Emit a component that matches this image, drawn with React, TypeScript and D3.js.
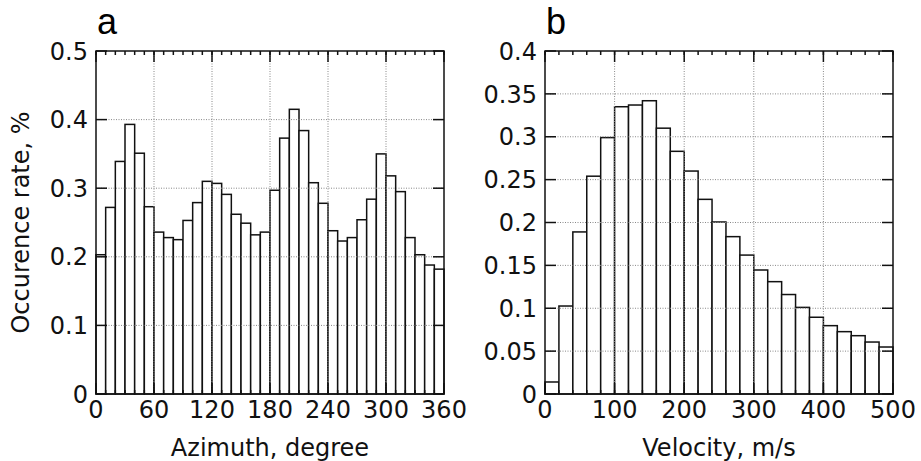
import React from "react";
import * as d3 from "d3";

const azimuthEdges = d3.range(0, 361, 10);
const azimuthRates = [
  0.203, 0.272, 0.339, 0.393, 0.351, 0.273, 0.236, 0.228, 0.225, 0.253,
  0.279, 0.31, 0.307, 0.291, 0.262, 0.249, 0.232, 0.236, 0.297, 0.373,
  0.415, 0.384, 0.308, 0.278, 0.238, 0.223, 0.228, 0.254, 0.284, 0.35,
  0.318, 0.295, 0.228, 0.203, 0.188, 0.182,
];
const velocityEdges = d3.range(0, 501, 20);
const velocityRates = [
  0.014, 0.1026, 0.189, 0.254, 0.299, 0.335, 0.337, 0.342, 0.31, 0.283,
  0.26, 0.227, 0.2006, 0.1835, 0.162, 0.1446, 0.131, 0.116, 0.101, 0.0895,
  0.0797, 0.0727, 0.068, 0.0606, 0.0548,
];
const azimuthXTicks = [0, 60, 120, 180, 240, 300, 360];
const azimuthYTicks = [0, 0.1, 0.2, 0.3, 0.4, 0.5];
const velocityXTicks = [0, 100, 200, 300, 400, 500];
const velocityYTicks = [0, 0.05, 0.1, 0.15, 0.2, 0.25, 0.3, 0.35, 0.4];

const FONT = "'DejaVu Sans', sans-serif";
const FS = 24;

type PanelProps = {
  x0: number;
  x1: number;
  y0: number;
  y1: number;
  edges: number[];
  values: number[];
  xTicks: number[];
  yTicks: number[];
  yMax: number;
  letter: string;
  xLabel: string;
  yLabel?: string;
};

function Panel(p: PanelProps) {
  const xMin = p.edges[0];
  const xMax = p.edges[p.edges.length - 1];
  const x = d3.scaleLinear().domain([xMin, xMax]).range([p.x0, p.x1]);
  const y = d3.scaleLinear().domain([0, p.yMax]).range([p.y1, p.y0]);
  const fmt = (v: number) => (v === 0 ? "0" : String(+v.toFixed(2)));
  const major = 11;
  const minor = 4;
  const sw = 1.5;
  return (
    <g>
      {p.values.map((v, i) => (
        <rect
          key={i}
          x={x(p.edges[i])}
          y={y(v)}
          width={x(p.edges[i + 1]) - x(p.edges[i])}
          height={y(0) - y(v)}
          fill="white"
          stroke="#111"
          strokeWidth={sw}
        />
      ))}
      {p.xTicks
        .filter((t) => t !== xMin && t !== xMax)
        .map((t) => (
          <line
            key={"gx" + t}
            x1={x(t)}
            x2={x(t)}
            y1={p.y0}
            y2={p.y1}
            stroke="#888"
            strokeWidth={1}
            strokeDasharray="1,1.5"
          />
        ))}
      {p.yTicks
        .filter((t) => t !== 0 && t !== p.yMax)
        .map((t) => (
          <line
            key={"gy" + t}
            x1={p.x0}
            x2={p.x1}
            y1={y(t)}
            y2={y(t)}
            stroke="#888"
            strokeWidth={1}
            strokeDasharray="1,1.5"
          />
        ))}
      {p.edges.map((e) => (
        <g key={"mt" + e}>
          <line x1={x(e)} x2={x(e)} y1={p.y0} y2={p.y0 + minor} stroke="#111" strokeWidth={sw} />
          <line x1={x(e)} x2={x(e)} y1={p.y1} y2={p.y1 - minor} stroke="#111" strokeWidth={sw} />
        </g>
      ))}
      {p.xTicks.map((t) => (
        <g key={"xt" + t}>
          <line x1={x(t)} x2={x(t)} y1={p.y0} y2={p.y0 + major} stroke="#111" strokeWidth={sw} />
          <line x1={x(t)} x2={x(t)} y1={p.y1} y2={p.y1 - major} stroke="#111" strokeWidth={sw} />
          <text
            x={x(t)}
            y={p.y1 + 24}
            textAnchor="middle"
            fontFamily={FONT}
            fontSize={FS}
            fill="#111"
          >
            {fmt(t)}
          </text>
        </g>
      ))}
      {p.yTicks.map((t) => (
        <g key={"yt" + t}>
          <line x1={p.x0} x2={p.x0 + major} y1={y(t)} y2={y(t)} stroke="#111" strokeWidth={sw} />
          <line x1={p.x1} x2={p.x1 - major} y1={y(t)} y2={y(t)} stroke="#111" strokeWidth={sw} />
          <text
            x={p.x0 - 8}
            y={y(t)}
            dy="0.36em"
            textAnchor="end"
            fontFamily={FONT}
            fontSize={FS}
            fill="#111"
          >
            {fmt(t)}
          </text>
        </g>
      ))}
      <rect
        x={p.x0}
        y={p.y0}
        width={p.x1 - p.x0}
        height={p.y1 - p.y0}
        fill="none"
        stroke="#111"
        strokeWidth={sw}
      />
      <text
        x={p.x0 + 1}
        y={34}
        fontFamily="'Liberation Sans', Arial, sans-serif"
        fontSize={36}
        fill="#000"
      >
        {p.letter}
      </text>
      <text
        x={(p.x0 + p.x1) / 2}
        y={456}
        textAnchor="middle"
        fontFamily={FONT}
        fontSize={FS}
        fill="#111"
      >
        {p.xLabel}
      </text>
      {p.yLabel && (
        <text
          transform={`translate(29,${(p.y0 + p.y1) / 2}) rotate(-90)`}
          textAnchor="middle"
          fontFamily={FONT}
          fontSize={FS}
          fill="#111"
        >
          {p.yLabel}
        </text>
      )}
    </g>
  );
}

export default function App() {
  return (
    <svg
      width={921}
      height={461}
      style={{ position: "absolute", left: 0, top: 0, background: "white" }}
    >
      <rect width={921} height={461} fill="white" />
      <Panel
        x0={96}
        x1={444}
        y0={51}
        y1={394}
        edges={azimuthEdges}
        values={azimuthRates}
        xTicks={azimuthXTicks}
        yTicks={azimuthYTicks}
        yMax={0.5}
        letter="a"
        xLabel="Azimuth, degree"
        yLabel="Occurence rate, %"
      />
      <Panel
        x0={545}
        x1={893}
        y0={51}
        y1={394}
        edges={velocityEdges}
        values={velocityRates}
        xTicks={velocityXTicks}
        yTicks={velocityYTicks}
        yMax={0.4}
        letter="b"
        xLabel="Velocity, m/s"
      />
    </svg>
  );
}
